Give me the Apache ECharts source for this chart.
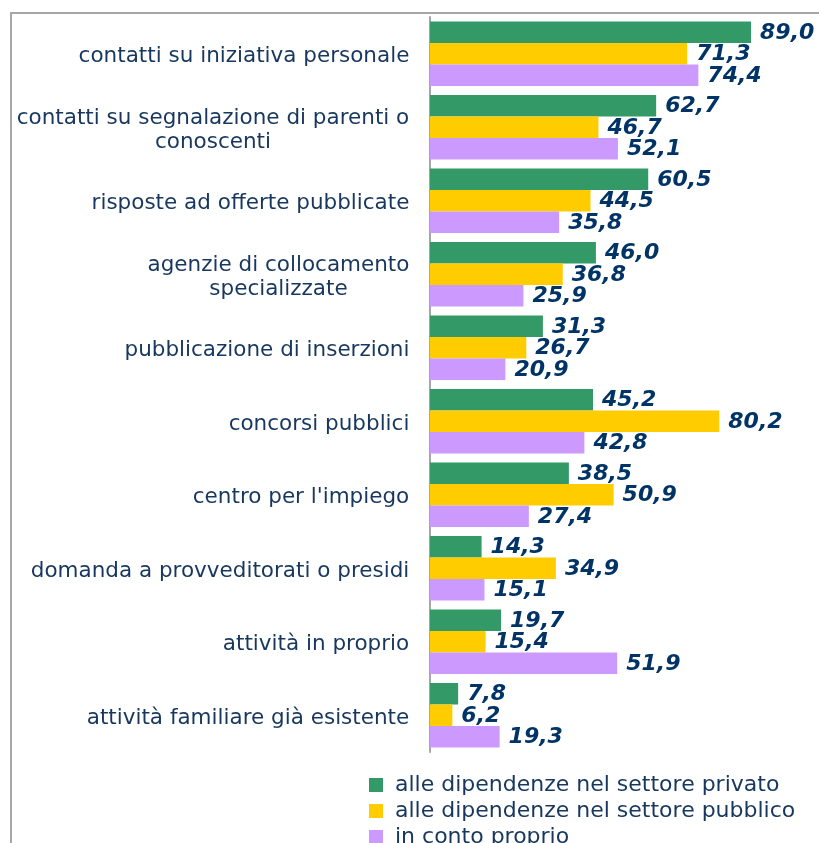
<!DOCTYPE html>
<html>
<head>
<meta charset="utf-8">
<script src="https://cdn.jsdelivr.net/npm/echarts@6/dist/echarts.min.js"></script>
<style>
  html, body { margin: 0; padding: 0; background: #fff; }
  #chart { width: 819px; height: 843px; }
</style>
</head>
<body>
<div id="chart"></div>
<script>
// Canali di ricerca del lavoro (%), per tipo di occupazione trovata
const categories = [
  'contatti su iniziativa personale',
  'contatti su segnalazione di parenti o\nconoscenti',
  'risposte ad offerte pubblicate',
  'agenzie di collocamento\nspecializzate',
  'pubblicazione di inserzioni',
  'concorsi pubblici',
  "centro per l'impiego",
  'domanda a provveditorati o presidi',
  'attività in proprio',
  'attività familiare già esistente'
];
const seriesNames = [
  'alle dipendenze nel settore privato',
  'alle dipendenze nel settore pubblico',
  'in conto proprio'
];
const privato  = [89.0, 62.7, 60.5, 46.0, 31.3, 45.2, 38.5, 14.3, 19.7, 7.8];
const pubblico = [71.3, 46.7, 44.5, 36.8, 26.7, 80.2, 50.9, 34.9, 15.4, 6.2];
const proprio  = [74.4, 52.1, 35.8, 25.9, 20.9, 42.8, 27.4, 15.1, 51.9, 19.3];
const colors = ['#339966', '#FFCC00', '#CC99FF'];

const FONT = 'DejaVu Sans';
const CAT_SIZE = 21.5;

// Width of the widest line of each category label, so every line of a
// wrapped label can be centred inside a box of that width.
const measureCtx = document.createElement('canvas').getContext('2d');
measureCtx.font = CAT_SIZE + 'px "' + FONT + '"';
const catRich = {};
categories.forEach((c, i) => {
  const w = Math.max(...c.split('\n').map(s => measureCtx.measureText(s).width));
  catRich['r' + i] = {
    width: Math.ceil(w) + 1,
    align: 'center',
    color: '#17375E',
    fontFamily: FONT,
    fontSize: CAT_SIZE,
    lineHeight: 24
  };
});

const chart = echarts.init(document.getElementById('chart'), null, { renderer: 'canvas' });

function barSeries(name, data, color) {
  return {
    name: name,
    type: 'bar',
    data: data,
    barWidth: 21.5,
    barGap: '0%',
    itemStyle: { color: color },
    label: {
      show: true,
      position: 'right',
      distance: 9,
      offset: [0, 1],
      formatter: p => p.value.toFixed(1).replace('.', ','),
      color: '#003366',
      fontFamily: FONT,
      fontSize: 22,
      fontWeight: 'bold',
      fontStyle: 'italic'
    }
  };
}

chart.setOption({
  animation: false,
  backgroundColor: '#ffffff',
  grid: { left: 430, top: 17, width: 360.7, height: 735, containLabel: false },
  xAxis: {
    type: 'value',
    min: 0,
    max: 100,
    show: false
  },
  yAxis: {
    type: 'category',
    data: categories,
    inverse: true,
    axisLine: { show: true, lineStyle: { color: '#A6A6A6', width: 2 } },
    axisTick: { show: false },
    axisLabel: {
      margin: 20,
      align: 'right',
      padding: [6, 0, 0, 0],
      formatter: (v, idx) => v.split('\n').map(s => '{r' + idx + '|' + s + '}').join('\n'),
      rich: catRich
    }
  },
  legend: {
    orient: 'vertical',
    left: 369,
    top: 774,
    height: 80,
    padding: 0,
    itemWidth: 14,
    itemHeight: 14,
    itemGap: 4,
    icon: 'rect',
    textStyle: {
      color: '#17375E',
      fontFamily: FONT,
      fontSize: 22,
      lineHeight: 21,
      padding: [0, 0, 0, 7]
    },
    data: seriesNames
  },
  graphic: [
    {
      type: 'polyline',
      shape: { points: [[11, 843], [11, 13], [819, 13]] },
      style: { stroke: '#A6A6A6', lineWidth: 2, fill: null },
      silent: true
    }
  ],
  series: [
    barSeries(seriesNames[0], privato, colors[0]),
    barSeries(seriesNames[1], pubblico, colors[1]),
    barSeries(seriesNames[2], proprio, colors[2])
  ]
});
</script>
</body>
</html>
